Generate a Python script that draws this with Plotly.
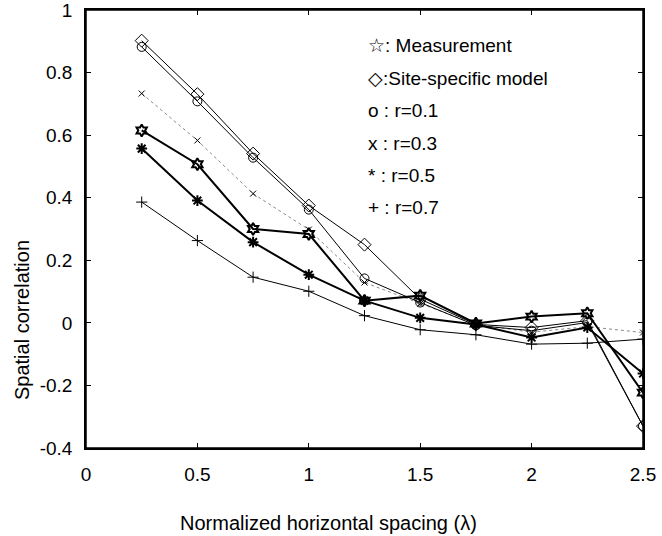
import plotly.graph_objects as go

# normalized horizontal spacing (lambda)
spacing = [0.25, 0.5, 0.75, 1.0, 1.25, 1.5, 1.75, 2.0, 2.25, 2.5]

# spatial correlation
measurement = [0.615, 0.507, 0.300, 0.284, 0.071, 0.087, -0.002, 0.020, 0.031, -0.223]
site_model = [0.902, 0.731, 0.541, 0.375, 0.250, 0.076, -0.005, -0.015, 0.007, -0.330]
r_01 = [0.882, 0.708, 0.528, 0.362, 0.142, 0.065, -0.008, -0.025, 0.001, -0.330]
r_03 = [0.733, 0.583, 0.413, 0.298, 0.129, 0.061, -0.005, -0.030, -0.012, -0.031]
r_05 = [0.557, 0.391, 0.258, 0.154, 0.071, 0.016, -0.005, -0.047, -0.015, -0.162]
r_07 = [0.386, 0.263, 0.146, 0.101, 0.023, -0.022, -0.038, -0.068, -0.065, -0.052]

legend_lines = ["\u2606: Measurement", "\u25c7:Site-specific model",
                "o : r=0.1", "x : r=0.3", "* : r=0.5", "+ : r=0.7"]

FONT = "Liberation Sans, Arial, sans-serif"

fig = go.Figure()

def add_series(y, symbol, size, width, color="black", dash="solid", mwidth=1):
    fig.add_trace(go.Scatter(
        x=spacing, y=y, mode="lines+markers",
        line=dict(color=color, width=width, dash=dash),
        marker=dict(symbol=symbol, size=size, color="black",
                    line=dict(color="black", width=mwidth)),
        showlegend=False))

add_series(r_07, "cross-thin-open", 8, 1)
add_series(r_03, "x-thin-open", 6, 1, color="#8a8a8a", dash="dot")
add_series(r_05, "asterisk-open", 9, 2, mwidth=2)
add_series(measurement, "hexagram-open", 9, 2, mwidth=2)
add_series(r_01, "circle-open", 9, 1)
add_series(site_model, "diamond-open", 10, 1)

# legend written as text inside the axes, like the original
for i, txt in enumerate(legend_lines):
    fig.add_annotation(x=1.255, y=0.885 - i * 0.1035, xref="x", yref="y",
                       text=txt, showarrow=False, xanchor="left", yanchor="middle",
                       font=dict(family=FONT, size=19, color="black"))

fig.add_annotation(x=0.436, y=-0.171, xref="paper", yref="paper",
                   xanchor="center", yanchor="middle",
                   text="Normalized horizontal spacing (\u03bb)", showarrow=False,
                   font=dict(family=FONT, size=20, color="black"))
fig.add_annotation(x=-0.115, y=0.292, xref="paper", yref="paper",
                   xanchor="center", yanchor="middle",
                   text="Spatial correlation", showarrow=False, textangle=-90,
                   font=dict(family=FONT, size=20, color="black"))

# box round the axes
fig.add_shape(type="rect", xref="paper", yref="paper", x0=0, y0=0, x1=1, y1=1,
              line=dict(color="black", width=1.5), layer="above")

axis_style = dict(showgrid=False, zeroline=False, showline=True, linecolor="black",
                  linewidth=1.5, mirror="ticks", ticks="inside", ticklen=5,
                  tickcolor="black", automargin=False, ticklabeloverflow="allow",
                  tickfont=dict(family=FONT, size=19, color="black"))

fig.update_xaxes(range=[0, 2.5], tickvals=[0, 0.5, 1, 1.5, 2, 2.5],
                 ticktext=["0", "0.5", "1", "1.5", "2", "2.5"],
                 ticklabelstandoff=8, **axis_style)
fig.update_yaxes(range=[-0.4, 1], tickvals=[-0.4, -0.2, 0, 0.2, 0.4, 0.6, 0.8, 1],
                 ticktext=["-0.4", "-0.2", "0", "0.2", "0.4", "0.6", "0.8", "1"],
                 ticklabelstandoff=8, **axis_style)

fig.update_layout(width=662, height=536, plot_bgcolor="white", paper_bgcolor="white",
                  margin=dict(l=86, r=19, t=10, b=88),
                  font=dict(family=FONT, color="black"))

# drop the default 8px body margin so the figure fills the window exactly
fig.write_html("out.html", config={"displayModeBar": False},
               post_script="document.body.style.margin='0';")
